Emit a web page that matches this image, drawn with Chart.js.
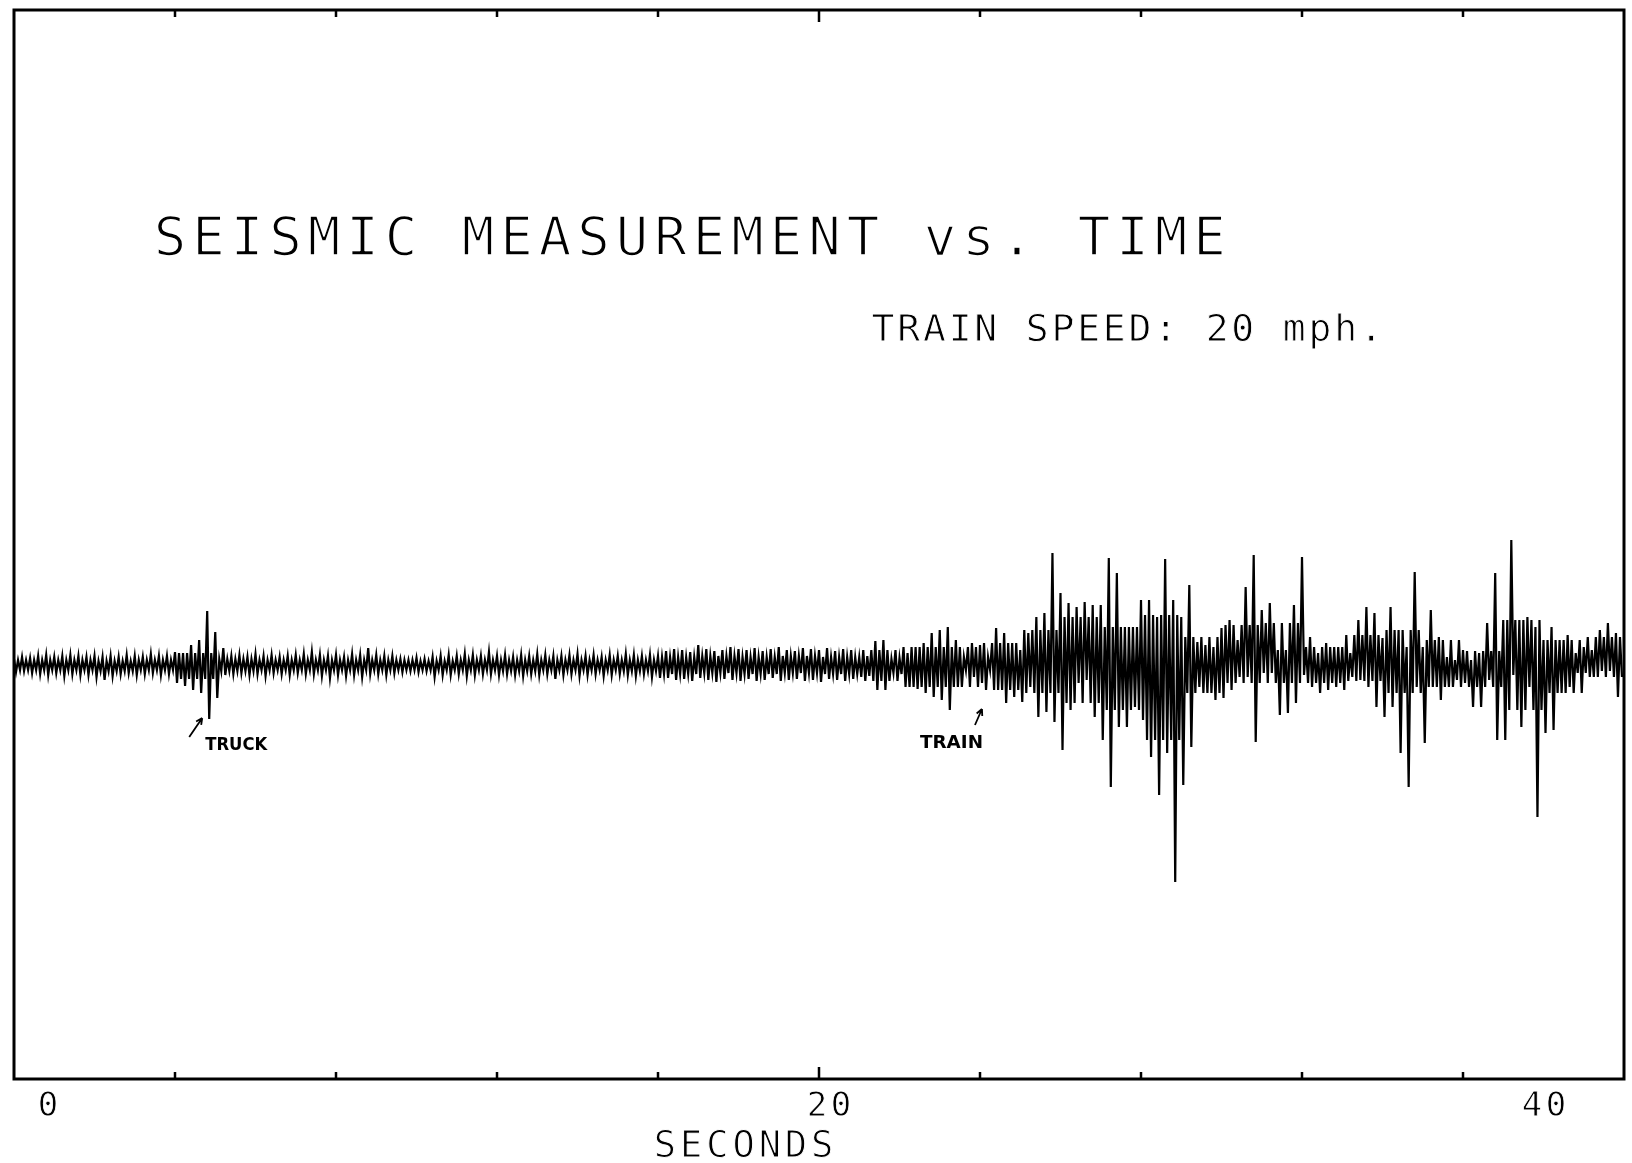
<!DOCTYPE html>
<html>
<head>
<meta charset="utf-8">
<script src="https://cdn.jsdelivr.net/npm/chart.js@4.4.1/dist/chart.umd.min.js"></script>
<style>
html,body{margin:0;padding:0;background:#ffffff;}
#wrap{width:1632px;height:1163px;position:relative;}
</style>
</head>
<body>
<div id="wrap"><canvas id="chart"></canvas></div>
<script>
// ---------- text ----------
const titleText = "SEISMIC MEASUREMENT vs. TIME";
const subtitleText = "TRAIN SPEED: 20 mph.";
const xAxisTitle = "SECONDS";

// ---------- axis ----------
const xMin = 0, xMax = 40;
const tickValues = [4, 8, 12, 16, 20, 24, 28, 32, 36];
const tickLabels = ["0", "20", "40"];
const tickLabelValues = [0, 20, 40];

// ---------- events marked on the record ----------
const eventLabels = ["TRUCK", "TRAIN"];
const eventTimes = [4.9, 23.9];

// ---------- trace: per 0.2 s window, peak upper and lower excursion ----------
const sampleStep = 0.2;
const upper = [
  6,8,7, 9,10,8,9,10,9, 8,9,8,9, 8,10,9,8,11,9,9, 13,12, 20,25, 54, 33, 17,
  9,10,8,11,9,10,8,9,10,11, 13, 10,9,10,8,11,10, 17, 10,9,9, 6,5,7,6, 8,9,
  10,9,11,10,9, 13, 9,10,8,10,9,11,10,9,
  9,10,11,9,10,8,10,9,11,10,9,10,9,
  14,16,15,13,20,16,14,15,18,16,
  15,17,14,16,18,15,14,17,16,15,17,14,16,15,
  8,9,24,25,6,7,12,18,22,32,35,38,25,8,22,20,8,37,32,22,15,32,48,52,112,
  72,62,58,63,60,60,107,92,38,38,65,65,48,106,65,48,80,23,20,18,37,45,25,78,
  110,55,62,15,15,60,108,28,12,22,18,18,12,45,58,52,27,58,35,18,93,18,55,28,
  8,5,15,5,12,42,92,45,125,45,48,38,25,38,25,30,12,18,15,35,42,32
];
const lower = [
  -7,-6,-8, -9,-10,-8,-11,-9,-10, -10,-12,-15,-11, -9,-8,-10,-9,-8,-10,-9, -18,-21, -25,-28, -54, -33, -10,
  -9,-8,-10,-9,-11,-8,-9,-10,-8,-9, -9, -11,-13,-10,-11,-10,-12, -9, -9,-10,-8, -7,-6,-7,-6, -12,-10,
  -10,-9,-11,-10,-9, -9, -10,-9,-10,-11,-9,-10,-9,-14,
  -10,-9,-11,-10,-9,-11,-10,-9,-10,-11,-9,-12,-13,
  -13,-15,-14,-16,-13,-15,-17,-14,-15,-16,
  -14,-16,-15,-13,-16,-15,-14,-16,-15,-17,-14,-15,-16,-14,
  -12,-11,-25,-25,-8,-9,-22,-24,-28,-32,-35,-45,-22,-5,-12,-18,-5,-25,-38,-32,-37,-22,-52,-47,-57,
  -85,-45,-18,-15,-52,-75,-122,-62,-62,-42,-55,-92,-130,-88,-217,-120,-82,-22,-28,-35,-33,-25,-12,-12,
  -77,-8,-8,-50,-48,-38,-10,-22,-28,-25,-22,-25,-12,-15,-22,-42,-52,-42,-88,-122,-22,-78,-22,-35,
  -22,-15,-18,-42,-42,-15,-75,-75,-10,-62,-22,-152,-68,-65,-28,-22,-8,-8,-12,-6,-6,-32
];
// dense core band of the trace, one value per second
const coreUpper = [5,5,4,5,12,6,5,5,5,5,4,5,5,5,5,5,8,9,8,9,8,15,18,18,22,35,48,38,50,28,40,42,18,30,35,25,14,45,25,28];
const coreLower = [-5,-5,-6,-5,-14,-6,-5,-5,-5,-5,-5,-5,-6,-5,-5,-6,-9,-8,-9,-8,-9,-16,-22,-22,-25,-28,-38,-45,-75,-28,-18,-18,-18,-16,-28,-22,-22,-45,-28,-12];
const yMin = -414, yMax = 655;

// ---------- build the point table ----------
const trace = [];
const perSecond = Math.round(1 / sampleStep);
upper.forEach((u, i) => {
  const t0 = i * sampleStep, q = sampleStep / 4, s = Math.floor(i / perSecond);
  trace.push({x: +t0.toFixed(3), y: u});
  trace.push({x: +(t0 + q).toFixed(3), y: lower[i]});
  trace.push({x: +(t0 + 2 * q).toFixed(3), y: coreUpper[s]});
  trace.push({x: +(t0 + 3 * q).toFixed(3), y: coreLower[s]});
});

// plotter lettering: fixed pitch, thin strokes (black fill eroded by a white outline)
function drawPitched(ctx, text, firstCenter, baseline, pitch, erode) {
  for (let k = 0; k < text.length; k++) {
    ctx.fillText(text[k], firstCenter + k * pitch, baseline);
  }
  if (erode > 0) {
    ctx.save();
    ctx.strokeStyle = '#fff';
    ctx.lineWidth = erode;
    ctx.lineJoin = 'round';
    for (let k = 0; k < text.length; k++) {
      ctx.strokeText(text[k], firstCenter + k * pitch, baseline);
    }
    ctx.restore();
  }
}
function drawFitted(ctx, text, left, baseline, width) {
  const w = ctx.measureText(text).width;
  ctx.save();
  ctx.translate(left, baseline);
  ctx.scale(width / w, 1);
  ctx.fillText(text, 0, 0);
  ctx.restore();
}
function arrow(ctx, x1, y1, x2, y2) {
  ctx.beginPath();
  ctx.moveTo(x1, y1); ctx.lineTo(x2, y2);
  const ang = Math.atan2(y2 - y1, x2 - x1);
  const h = 7;
  ctx.moveTo(x2, y2); ctx.lineTo(x2 - h * Math.cos(ang - 0.45), y2 - h * Math.sin(ang - 0.45));
  ctx.moveTo(x2, y2); ctx.lineTo(x2 - h * Math.cos(ang + 0.45), y2 - h * Math.sin(ang + 0.45));
  ctx.stroke();
}

const plotterPlugin = {
  id: 'plotter',
  afterDraw(chart) {
    const {ctx, chartArea: a, scales: {x, y}} = chart;
    ctx.save();
    ctx.strokeStyle = '#000';
    ctx.fillStyle = '#000';
    // frame
    ctx.lineWidth = 3;
    ctx.strokeRect(a.left, a.top, a.right - a.left, a.bottom - a.top);
    // inward ticks top & bottom
    ctx.lineWidth = 2.5;
    tickValues.forEach(v => {
      const px = x.getPixelForValue(v);
      const len = v === 20 ? 12 : 7;
      ctx.beginPath();
      ctx.moveTo(px, a.top); ctx.lineTo(px, a.top + len);
      ctx.moveTo(px, a.bottom); ctx.lineTo(px, a.bottom - len);
      ctx.stroke();
    });
    // tick labels
    ctx.textAlign = 'center';
    ctx.textBaseline = 'alphabetic';
    ctx.font = '34px "DejaVu Sans Mono"';
    const labelShift = [34, 10, -80];
    tickLabels.forEach((t, i) => {
      const px = x.getPixelForValue(tickLabelValues[i]) + labelShift[i];
      const n = t.length;
      drawPitched(ctx, t, px - (n - 1) * 12, a.bottom + 37, 24, 0.8);
    });
    // axis title
    ctx.font = '37px "DejaVu Sans Mono"';
    drawPitched(ctx, xAxisTitle, 665, 1157, 26.2, 1.0);
    // title
    ctx.font = '54px "DejaVu Sans Mono"';
    drawPitched(ctx, titleText, 170, 255, 38.5, 1.6);
    // subtitle
    ctx.font = '38px "DejaVu Sans Mono"';
    drawPitched(ctx, subtitleText, 883, 341, 25.7, 0.9);
    // event annotations
    ctx.textAlign = 'left';
    ctx.font = 'bold 17px "DejaVu Sans Condensed", "DejaVu Sans"';
    ctx.lineWidth = 1.8;
    const base = y.getPixelForValue(0);
    // truck
    const tx = x.getPixelForValue(eventTimes[0]);
    arrow(ctx, tx - 22, base + 72, tx - 9, base + 53);
    drawFitted(ctx, eventLabels[0], tx - 6, base + 85, 62);
    // train
    const rx = x.getPixelForValue(eventTimes[1]);
    arrow(ctx, rx - 1, base + 60, rx + 6, base + 44);
    drawFitted(ctx, eventLabels[1], rx - 56, base + 83, 63);
    ctx.restore();
  }
};

new Chart(document.getElementById('chart').getContext('2d'), {
  type: 'line',
  data: {
    datasets: [{
      data: trace,
      borderColor: '#000',
      borderWidth: 2.2,
      pointRadius: 0,
      tension: 0,
      fill: false
    }]
  },
  options: {
    responsive: true,
    maintainAspectRatio: false,
    animation: false,
    events: [],
    layout: {padding: {left: 14, right: 8, top: 10, bottom: 84}},
    plugins: {legend: {display: false}, tooltip: {enabled: false}, title: {display: false}},
    scales: {
      x: {type: 'linear', min: xMin, max: xMax, display: false},
      y: {type: 'linear', min: yMin, max: yMax, display: false}
    }
  },
  plugins: [plotterPlugin]
});
</script>
</body>
</html>
